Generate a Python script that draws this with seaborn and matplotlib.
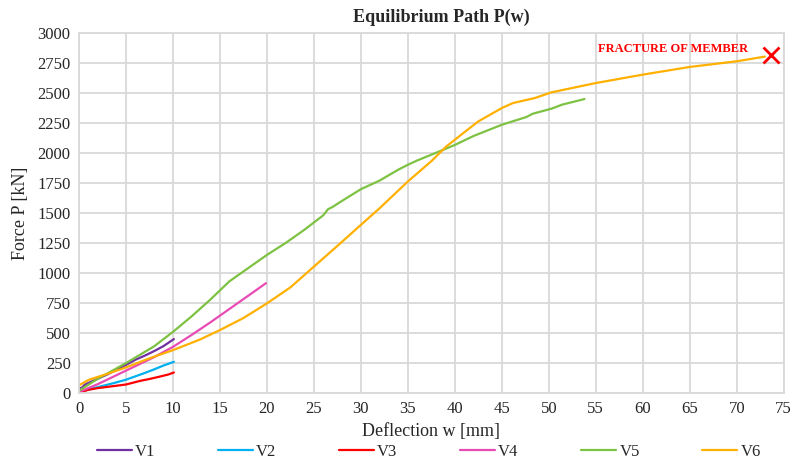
import matplotlib
matplotlib.use("Agg")
import matplotlib.pyplot as plt
import seaborn as sns
import pandas as pd

# deflection w [mm] / force P [kN] for each specimen
w_v1 = [0, 0.3, 0.6, 1, 2, 3, 4, 5, 6, 7, 8, 9, 10.1]
p_v1 = [40, 45, 70, 85, 120, 155, 195, 235, 278, 312, 350, 392, 450]

w_v2 = [0, 1, 2, 3, 4, 5, 6, 7, 8, 9, 10.1]
p_v2 = [10, 30, 50, 70, 90, 112, 140, 168, 198, 230, 261]

w_v3 = [0, 1, 2, 3, 4, 5, 5.8, 6.5, 7.5, 8.5, 9.5, 10.1]
p_v3 = [5, 28, 42, 52, 62, 72, 88, 102, 118, 136, 155, 172]

w_v4 = [0, 2, 4, 6, 8, 10, 12, 14, 16, 18, 19.9]
p_v4 = [10, 75, 150, 225, 300, 385, 485, 590, 700, 810, 915]

w_v5 = [0, 2, 5, 8, 10, 12, 14, 16, 18, 20, 22, 24, 25, 26, 26.5, 27, 28, 30,
        32, 34, 35, 36, 38, 40, 42, 45, 47.6, 48.3, 50.3, 51.4, 53.8]
p_v5 = [20, 120, 250, 390, 510, 640, 780, 930, 1040, 1150, 1250, 1360, 1420,
        1480, 1530, 1550, 1600, 1697, 1769, 1860, 1900, 1936, 2000, 2065, 2140,
        2233, 2297, 2325, 2367, 2400, 2447]

w_v6 = [0, 1, 2, 3, 5, 7.5, 10, 12.9, 15, 17.5, 20, 22.5, 25, 27.5, 30, 32, 35,
        37.5, 39.1, 41, 42.5, 45, 46.2, 48.5, 50.3, 55, 60, 65, 70, 73]
p_v6 = [65, 110, 135, 160, 214, 290, 358, 447, 525, 625, 747, 880, 1053, 1225,
        1400, 1539, 1761, 1930, 2053, 2170, 2261, 2372, 2414, 2455, 2503, 2580,
        2650, 2714, 2761, 2800]

fracture_w = [73.6]
fracture_p = [2812]

names = ["V1", "V2", "V3", "V4", "V5", "V6"]
colors = ["#7030A0", "#00B0F0", "#FF0000", "#E84BB4", "#7DC242", "#FFB000"]

frames = []
for name, w, p in zip(names, [w_v1, w_v2, w_v3, w_v4, w_v5, w_v6],
                      [p_v1, p_v2, p_v3, p_v4, p_v5, p_v6]):
    frames.append(pd.DataFrame({"w": w, "P": p, "Series": name}))
df = pd.concat(frames, ignore_index=True)

sns.set_style("white")
plt.rcParams["font.family"] = ["Liberation Serif", "DejaVu Serif"]

fig = plt.figure(figsize=(7.94, 4.62), dpi=100)
ax = fig.add_axes([0.0995, 0.149, 0.8875, 0.7805])

sns.lineplot(data=df, x="w", y="P", hue="Series", palette=colors,
             sort=False, estimator=None, linewidth=1.6, ax=ax, legend=True)

ax.plot(fracture_w, fracture_p, marker="x", color="red", markersize=11,
        markeredgewidth=2, linestyle="none")
ax.text(71.2, 2862, "FRACTURE OF MEMBER", color="red", fontsize=9,
        fontweight="bold", ha="right", va="center")

ax.set_xlim(0, 75)
ax.set_ylim(0, 3000)
ax.set_xticks(range(0, 76, 5))
ax.set_yticks(range(0, 3001, 250))
ax.grid(True, color="#D9D9D9", linewidth=1.3)
for s in ax.spines.values():
    s.set_color("#D9D9D9")
    s.set_linewidth(1.3)
ax.tick_params(length=0, labelsize=12, pad=6)

ax.set_xlabel("Deflection w [mm]", fontsize=13, labelpad=4)
ax.set_ylabel("Force P [kN]", fontsize=13, labelpad=6)
ax.set_title("Equilibrium Path P(w)", fontsize=13, fontweight="bold", pad=8,
             x=0.514)

handles, labels = ax.get_legend_handles_labels()
ax.get_legend().remove()
fig.legend(handles, labels, ncol=6, loc="center", bbox_to_anchor=(0.54, 0.022),
           frameon=False, fontsize=12, handlelength=2.1, handletextpad=0.2,
           columnspacing=3.75)

fig.savefig("out.png", dpi=100)
